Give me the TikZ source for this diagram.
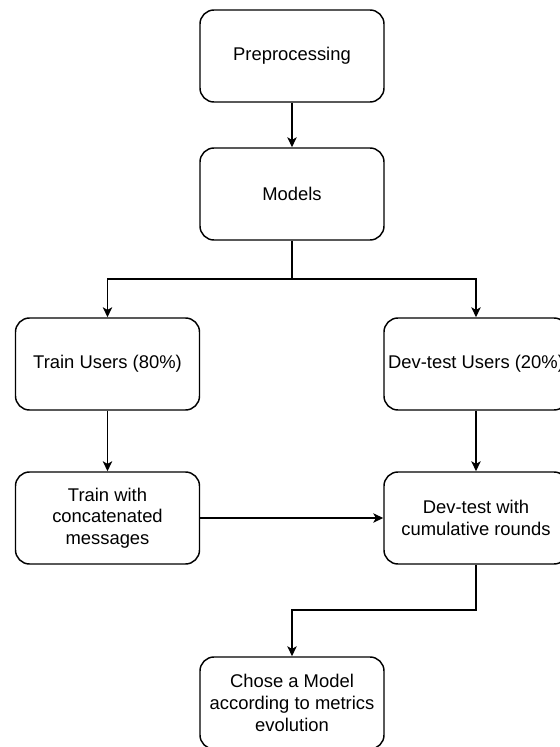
\documentclass[tikz,border=0pt]{standalone}
\usepackage{fontspec}
\setmainfont{Liberation Sans}
\usepackage{tikz}
\usetikzlibrary{arrows.meta,positioning}
\tikzset{block/.style={draw=black,line width=1.1pt,rounded corners=10.5pt,fill=white,align=center,minimum width=138pt,minimum height=69pt,inner sep=3pt},arr/.style={-{Stealth[length=7.5pt,width=7pt,inset=2pt]},draw=black,line width=1.1pt},ln/.style={draw=black,line width=1.1pt}}

\begin{document}
\begin{tikzpicture}[x=0.75pt,y=-0.75pt,font=\fontsize{13.8}{16.2}\selectfont]
\clip (0,0) rectangle (560,747);
\node[block] (pre) at (292,56) {Preprocessing};
\node[block] (mod) at (292,194) {Models};
\node[block] (tu) at (107.5,364) {Train Users (80\%)};
\node[block] (du) at (476,364) {Dev-test Users (20\%)};
\node[block] (tc) at (107.5,518) {Train with\\concatenated\\messages};
\node[block] (dc) at (476,518) {Dev-test with\\cumulative rounds};
\node[block] (ch) at (292,703) {Chose a Model\\according to metrics\\evolution};
\coordinate (split) at (292,279);
\coordinate (join) at (292,610);
\draw[arr] (pre)--(mod);
\draw[ln] (mod.south)--(split);
\draw[arr] (split)-|(tu.north);
\draw[arr] (split)-|(du.north);
\draw[arr] (tu)--(tc);
\draw[arr] (du)--(dc);
\draw[arr] (tc)--(dc);
\draw[arr] (dc.south)|-(join)--(ch.north);
\end{tikzpicture}
\end{document}
